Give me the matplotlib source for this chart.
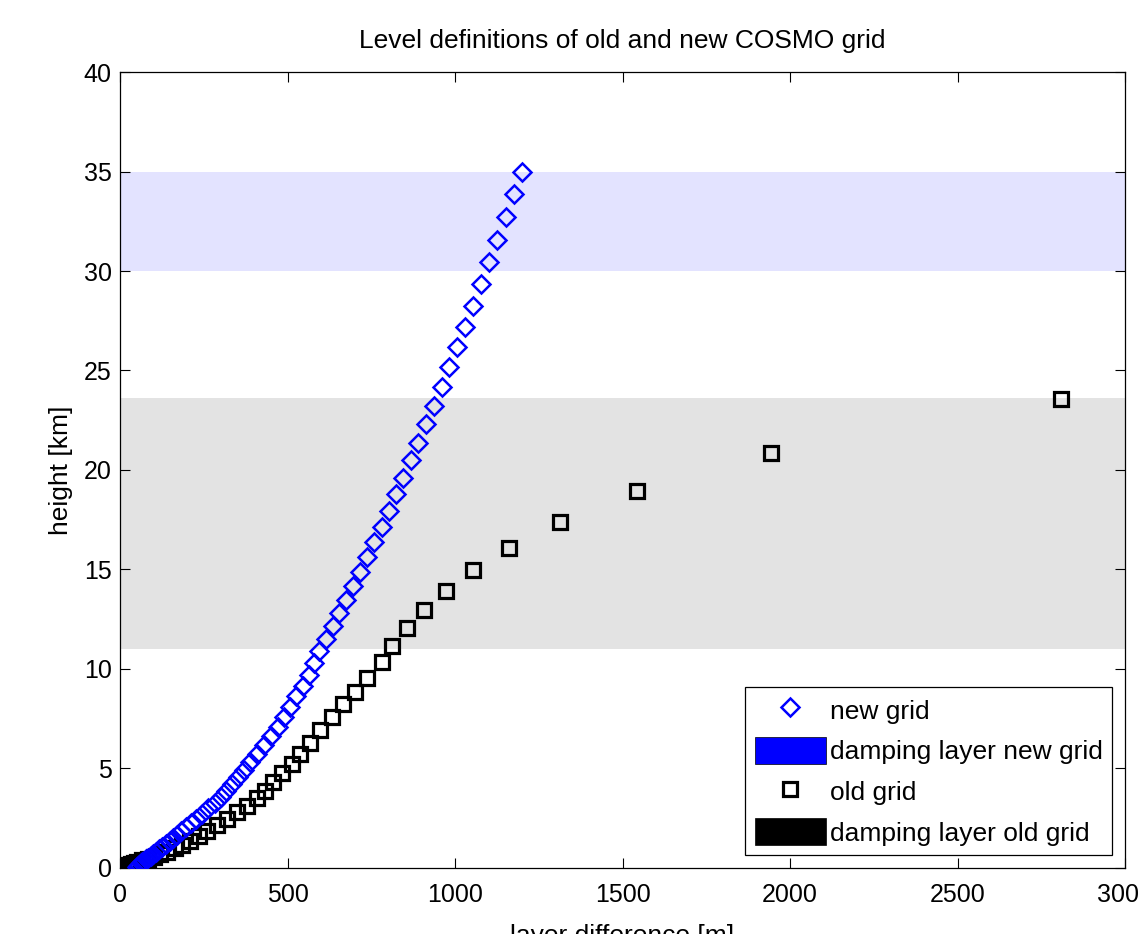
import matplotlib
matplotlib.use('Agg')
import matplotlib.pyplot as plt
from matplotlib.lines import Line2D
from matplotlib.patches import Patch

plt.rcParams['font.family'] = ['Liberation Sans', 'DejaVu Sans']

# new grid: level height [km] and layer difference [m]
new_height = [35.00, 33.85, 32.70, 31.56, 30.43, 29.33, 28.25, 27.20, 26.17, 25.16,
              24.19, 23.23, 22.30, 21.38, 20.49, 19.62, 18.78, 17.96, 17.16, 16.38,
              15.62, 14.88, 14.17, 13.47, 12.80, 12.14, 11.51, 10.90, 10.30, 9.72,
              9.16, 8.62, 8.09, 7.58, 7.09, 6.62, 6.17, 5.74, 5.33, 4.94,
              4.57, 4.22, 3.89, 3.57, 3.27, 2.99, 2.73, 2.48, 2.26, 2.05,
              1.85, 1.67, 1.50, 1.34, 1.19, 1.06, 0.93, 0.82, 0.71, 0.61,
              0.52, 0.44, 0.36, 0.29, 0.23, 0.17, 0.11, 0.06]
new_diff = [1200, 1176, 1152, 1126, 1102, 1078, 1053, 1030, 1007, 983,
            960, 936, 913, 890, 868, 846, 824, 802, 781, 759,
            738, 716, 696, 675, 654, 635, 615, 595, 578, 563,
            545, 526, 508, 490, 471, 451, 429, 409, 388, 369,
            351, 333, 316, 300, 283, 263, 244, 227, 211, 197,
            183, 170, 159, 148, 136, 125, 115, 106, 98, 91,
            83, 77, 71, 66, 62, 58, 55, 52]

# old grid
old_height = [23.59, 20.85, 18.95, 17.38, 16.08, 14.95, 13.90, 12.94, 12.04, 11.16,
              10.36, 9.56, 8.86, 8.25, 7.58, 6.94, 6.30, 5.75, 5.24, 4.76,
              4.30, 3.88, 3.50, 3.13, 2.79, 2.47, 2.17, 1.88, 1.62, 1.38,
              1.17, 0.98, 0.82, 0.68, 0.56, 0.46, 0.38, 0.31, 0.25, 0.20,
              0.16, 0.12, 0.08, 0.04]
old_diff = [2810, 1943, 1544, 1313, 1161, 1055, 973, 908, 858, 811,
            781, 737, 701, 666, 633, 597, 567, 537, 513, 484,
            457, 433, 409, 379, 349, 319, 290, 260, 235, 210,
            186, 163, 141, 120, 100, 82, 66, 52, 42, 34,
            28, 24, 20, 20]

# damping layers [km]
damp_new = [30, 35]
damp_old = [11, 23.6]

labels = ['new grid', 'damping layer new grid', 'old grid', 'damping layer old grid']

fig = plt.figure(figsize=(11.4, 9.34), dpi=100)
ax = fig.add_axes([0.1053, 0.0707, 0.8816, 0.8522])

ax.axhspan(damp_new[0], damp_new[1], color='blue', alpha=0.11, lw=0, zorder=1)
ax.axhspan(damp_old[0], damp_old[1], color='black', alpha=0.11, lw=0, zorder=1)

ax.plot(old_diff, old_height, linestyle='none', marker='s', markersize=10.5,
        markerfacecolor='none', markeredgecolor='black', markeredgewidth=2.3, zorder=3)
ax.plot(new_diff, new_height, linestyle='none', marker='D', markersize=9.5,
        markerfacecolor='none', markeredgecolor='blue', markeredgewidth=1.8, zorder=4)

ax.set_xlim(0, 3000)
ax.set_ylim(0, 40)
ax.set_xticks([0, 500, 1000, 1500, 2000, 2500, 3000])
ax.set_yticks([0, 5, 10, 15, 20, 25, 30, 35, 40])
ax.tick_params(direction='in', length=7, width=0.8, top=True, right=True,
               labelsize=18, pad=6)
ax.tick_params(axis='x', pad=11)
for s in ax.spines.values():
    s.set_linewidth(0.9)

ax.set_title('Level definitions of old and new COSMO grid', fontsize=19, pad=17)
ax.set_xlabel('layer difference [m]', fontsize=19, labelpad=12)
ax.set_ylabel('height [km]', fontsize=19, labelpad=8)

handles = [
    Line2D([], [], linestyle='none', marker='D', markersize=9.5, markerfacecolor='none',
           markeredgecolor='blue', markeredgewidth=1.8),
    Patch(facecolor='blue', edgecolor='black', linewidth=0.5),
    Line2D([], [], linestyle='none', marker='s', markersize=10.5, markerfacecolor='none',
           markeredgecolor='black', markeredgewidth=2.3),
    Patch(facecolor='black', edgecolor='black', linewidth=0.5),
]
leg = ax.legend(handles, labels, loc='lower right', fontsize=19, fancybox=False,
                framealpha=1, edgecolor='black', handlelength=2.7, handleheight=1.2,
                handletextpad=0.15, borderaxespad=0.5, labelspacing=0.5, borderpad=0.35)
leg.get_frame().set_linewidth(0.9)

fig.savefig('out.png', dpi=100)
